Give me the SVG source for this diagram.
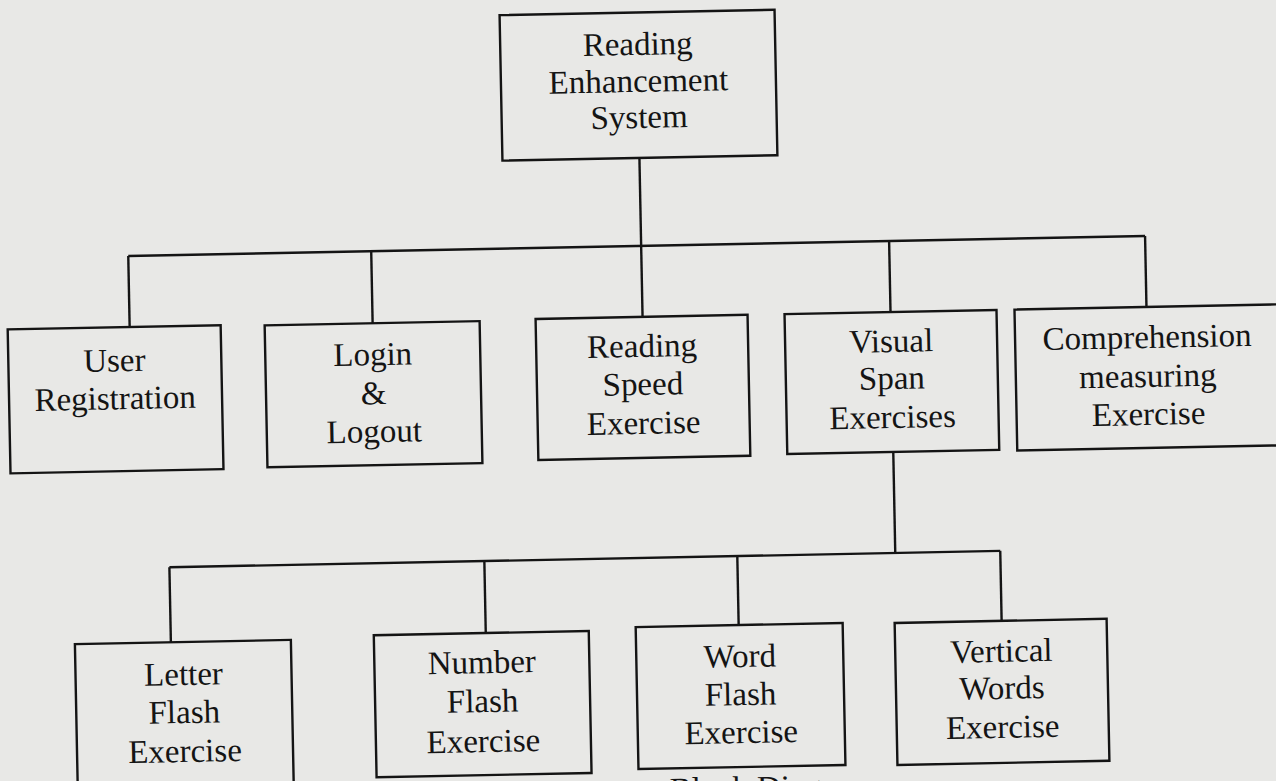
<svg xmlns="http://www.w3.org/2000/svg" width="1276" height="781" viewBox="0 0 1276 781">
<style>
.box{fill:none;stroke:#141414;stroke-width:2.4}
.con{fill:none;stroke:#141414;stroke-width:2.4}
text{font-family:"Liberation Serif","Times New Roman",serif;font-size:33px;fill:#141414;text-anchor:middle}
.cap{text-anchor:start}
</style>
<rect x="0" y="0" width="1276" height="781" fill="#e8e8e6"/>
<g transform="rotate(-1.13 638 390)">
<text class="cap" x="662" y="801">Block Diagram</text>
<g id="connectors">
<path class="con" d="M644 158 V317"/>
<path class="con" d="M131 246 H1148"/>
<path class="con" d="M131 246 V317"/>
<path class="con" d="M374 246 V318"/>
<path class="con" d="M892 246 V317"/>
<path class="con" d="M1148 246 V317"/>
<path class="con" d="M892 457 V558"/>
<path class="con" d="M166 558 H997"/>
<path class="con" d="M166 558 V633"/>
<path class="con" d="M481 558 V630"/>
<path class="con" d="M734 558 V627"/>
<path class="con" d="M997 558 V628"/>
</g>
<g id="node-root">
<rect class="box" x="507" y="12.5" width="275" height="145.5"/>
<text x="644.5" y="55">Reading</text>
<text x="644.5" y="92">Enhancement</text>
<text x="644.5" y="128">System</text>
</g>
<g id="node-user-registration">
<rect class="box" x="9" y="317" width="213" height="144"/>
<text x="115" y="361">User</text>
<text x="115" y="399">Registration</text>
</g>
<g id="node-login-logout">
<rect class="box" x="266" y="318" width="215" height="142"/>
<text x="373.5" y="360">Login</text>
<text x="373.5" y="399">&amp;</text>
<text x="373.5" y="437">Logout</text>
</g>
<g id="node-reading-speed">
<rect class="box" x="537" y="317" width="212" height="141"/>
<text x="643" y="357">Reading</text>
<text x="643" y="395">Speed</text>
<text x="643" y="434">Exercise</text>
</g>
<g id="node-visual-span">
<rect class="box" x="786" y="317" width="212" height="140"/>
<text x="892" y="357">Visual</text>
<text x="892" y="394">Span</text>
<text x="892" y="433">Exercises</text>
</g>
<g id="node-comprehension">
<rect class="box" x="1016" y="317" width="266" height="141"/>
<text x="1148" y="358">Comprehension</text>
<text x="1148" y="397">measuring</text>
<text x="1148" y="435">Exercise</text>
</g>
<g id="node-letter-flash">
<rect class="box" x="70" y="633" width="216" height="190"/>
<text x="178" y="676">Letter</text>
<text x="178" y="714">Flash</text>
<text x="178" y="753">Exercise</text>
</g>
<g id="node-number-flash">
<rect class="box" x="369" y="630" width="215" height="142"/>
<text x="476.5" y="670">Number</text>
<text x="476.5" y="709">Flash</text>
<text x="476.5" y="749">Exercise</text>
</g>
<g id="node-word-flash">
<rect class="box" x="631" y="627" width="207" height="142"/>
<text x="734.5" y="669">Word</text>
<text x="734.5" y="707">Flash</text>
<text x="734.5" y="745">Exercise</text>
</g>
<g id="node-vertical-words">
<rect class="box" x="890" y="628" width="212" height="142"/>
<text x="996" y="669">Vertical</text>
<text x="996" y="706">Words</text>
<text x="996" y="745">Exercise</text>
</g>
</g>
</svg>
